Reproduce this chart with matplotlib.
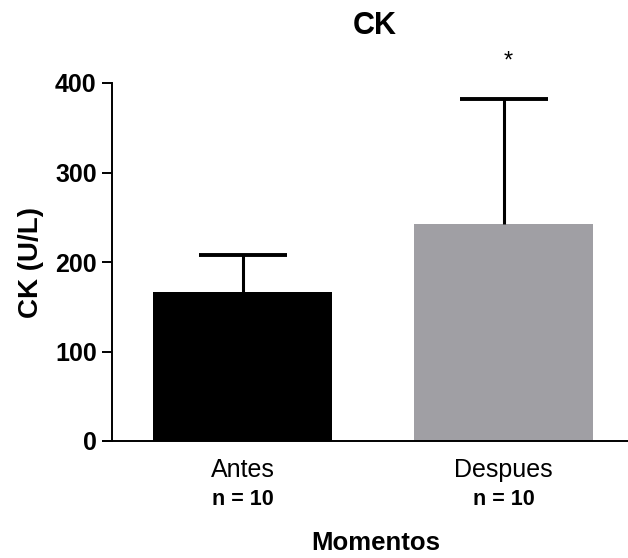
import numpy as np
import matplotlib
matplotlib.use("Agg")
import matplotlib.pyplot as plt
from matplotlib.transforms import blended_transform_factory

plt.rcParams['font.family'] = ['Liberation Sans', 'DejaVu Sans']

# ---------- data ----------
groups = ["Antes", "Despues"]
n_labels = ["n = 10", "n = 10"]
means = [166, 242]
sds = [42, 140]
colors = ["#000000", "#a09fa4"]
signif = ["", "*"]
yticks = [0, 100, 200, 300, 400]

# ---------- plot ----------
fig = plt.figure(figsize=(6.28, 5.58), dpi=100)
ax = fig.add_axes([112 / 628, 1 - 441 / 558, 516 / 628, 358 / 558])

x = np.arange(len(groups))
ax.bar(x, means, width=0.686, color=colors, zorder=2)
eb = ax.errorbar(x, means, yerr=[np.zeros(len(sds)), sds], fmt="none", ecolor="black",
                 elinewidth=2.2, capsize=31.5, capthick=2.8, zorder=3, clip_on=False)
eb[1][0].set_visible(False)   # only the upper cap, GraphPad style

for xi, m, s, lab in zip(x, means, sds, signif):
    if lab:
        ax.text(xi + 0.017, m + s + 42, lab, ha="center", va="center",
                fontsize=17, clip_on=False)

ax.set_xlim(-0.5, 1.477)
ax.set_ylim(0, 400)
ax.set_yticks(yticks)
ax.set_yticklabels([str(t) for t in yticks], fontsize=18, fontweight="bold")
ax.tick_params(axis="y", length=7, width=1.4, pad=4)
ax.set_xticks(x)
ax.set_xticklabels(groups, fontsize=18)
ax.tick_params(axis="x", length=0, pad=12)

trans = blended_transform_factory(ax.transData, ax.transAxes)
for xi, nl in zip(x, n_labels):
    ax.text(xi, -0.164, nl, transform=trans, ha="center", va="center",
            fontsize=15.5, fontweight="bold")

for sp in ["top", "right"]:
    ax.spines[sp].set_visible(False)
ax.spines["left"].set_linewidth(1.4)
ax.spines["bottom"].set_linewidth(1.4)
# x-axis line extends a little left of the y-axis
ax.plot([-0.019, 0], [0, 0], transform=ax.transAxes, color="black", lw=1.4,
        clip_on=False, solid_capstyle="butt")

ax.set_ylabel("CK (U/L)", fontsize=20, fontweight="bold", labelpad=8)
ax.text(0.512, -0.286, "Momentos", transform=ax.transAxes, ha="center",
        va="center", fontsize=18.5, fontweight="bold")
fig.text(375 / 628, 1 - 26 / 558, "CK", ha="center", va="center",
         fontsize=22, fontweight="bold")

fig.savefig("out.png", dpi=100)
